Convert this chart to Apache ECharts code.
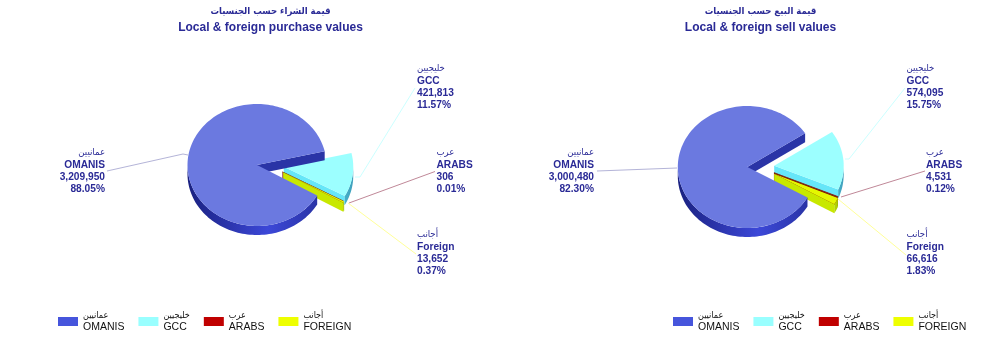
<!DOCTYPE html>
<html>
<head>
<meta charset="utf-8">
<title>Local & foreign values</title>
<style>
html, body { margin: 0; padding: 0; background: #fff; }
#main { width: 1000px; height: 355px; }
</style>
<script src="https://cdn.jsdelivr.net/npm/echarts@6/dist/echarts.min.js"></script>
</head>
<body>
<div id="main"></div>
<script>
// chart data
var legendEn = ['OMANIS', 'GCC', 'ARABS', 'FOREIGN'];
var legendAr = ['عمانيين', 'خليجيين', 'عرب', 'أجانب'];
var labelEn = ['OMANIS', 'GCC', 'ARABS', 'Foreign'];
var purchaseValues = [3209950, 421813, 306, 13652];
var sellValues = [3000480, 574095, 4531, 66616];
var purchaseTitleAr = 'قيمة الشراء حسب الجنسيات';
var purchaseTitleEn = 'Local & foreign purchase values';
var sellTitleAr = 'قيمة البيع حسب الجنسيات';
var sellTitleEn = 'Local & foreign sell values';

// look of the slices, same order as the categories
var legendColors = ['#4655DC', '#99FFFF', '#C00000', '#EEFF00'];
var topColors = ['#6B79E0', '#9CFFFF', '#C00000', '#E4F800'];
var sideColors = ['#2A34A6', '#66E6F8', '#7A0000', '#C8E800'];
var rimColors = [
	[{ offset: 0, color: '#1A2180' }, { offset: 0.62, color: '#3C48D8' }, { offset: 1, color: '#2A34A6' }],
	[{ offset: 0, color: '#45AFC8' }, { offset: 1, color: '#3FA0BC' }],
	[{ offset: 0, color: '#7A0000' }, { offset: 1, color: '#7A0000' }],
	[{ offset: 0, color: '#B8D800' }, { offset: 1, color: '#A8C800' }]
];
var leaderColors = ['#B4B4D8', '#CCFFFF', '#C08898', '#FFFF99'];
var textColor = '#2A2A96';
var fontFamily = '"Liberation Sans", Arial, sans-serif';
var arabicFamily = '"DejaVu Sans Condensed", "DejaVu Sans", sans-serif';

// pie geometry, in pixels
var radiusX = 69.5, radiusY = 61, depth = 9, explodeSquash = 0.5;
var explode = [0, 27, 29, 30];
var endAngle = -30;

var purchaseLayout = {
	cx: 257, cy: 165,
	labels: [
		{ x: 105, y: 152, align: 'right' },
		{ x: 417, y: 68, align: 'left' },
		{ x: 436.5, y: 152, align: 'left' },
		{ x: 417, y: 234, align: 'left' }
	],
	leaders: [
		[[107, 171], [183, 154], [188, 155]],
		[[355, 177], [360, 177], [415, 88]],
		[[349, 203], [435, 171.5]],
		[[348, 203], [416, 254]]
	]
};
var sellLayout = {
	cx: 747.3, cy: 167,
	labels: [
		{ x: 594, y: 152, align: 'right' },
		{ x: 906.5, y: 68, align: 'left' },
		{ x: 926, y: 152, align: 'left' },
		{ x: 906.5, y: 234, align: 'left' }
	],
	leaders: [
		[[597, 171], [677, 168]],
		[[845, 159], [849, 159], [905, 88]],
		[[841, 197], [925, 171]],
		[[838, 199], [906, 255]]
	]
};

function numberText(value) {
	return String(value).replace(/\B(?=(\d{3})+$)/g, ',');
}

function ellipsePoint(cx, cy, deg) {
	var a = deg * Math.PI / 180;
	return [cx + radiusX * Math.cos(a), cy - radiusY * Math.sin(a)];
}

function arcPoints(cx, cy, from, to) {
	var points = [];
	var steps = Math.max(1, Math.ceil((to - from) / 2));
	for (var i = 0; i <= steps; i++) {
		points.push(ellipsePoint(cx, cy, from + (to - from) * i / steps));
	}
	return points;
}

function down(points) {
	return points.map(function (p) { return [p[0], p[1] + depth]; });
}

// the walls facing the viewer, and the top face on them
function sliceShapes(index, cx, cy, from, to) {
	var shapes = [];
	var a = ellipsePoint(cx, cy, from);
	shapes.push({
		type: 'polygon',
		shape: { points: [[cx, cy], a, [a[0], a[1] + depth], [cx, cy + depth]] },
		style: { fill: sideColors[index] }
	});
	// rim, only the part in the lower half of the ellipse
	var rimFrom = index === 0 ? 180 : from;
	var rimTo = index === 0 ? to : Math.min(to, 0);
	if (rimTo > rimFrom) {
		var rim = arcPoints(cx, cy, rimFrom, rimTo);
		shapes.push({
			type: 'polygon',
			shape: { points: rim.concat(down(rim).reverse()) },
			style: { fill: new echarts.graphic.LinearGradient(0, 0, 1, 0, rimColors[index]) }
		});
	}
	var faceStyle = { fill: topColors[index] };
	if (index === 2) {
		faceStyle.stroke = '#7A2000';
		faceStyle.lineWidth = 0.6;
	}
	shapes.push({ type: 'polygon', shape: { points: [[cx, cy]].concat(arcPoints(cx, cy, from, to)) }, style: faceStyle });
	return shapes;
}

function labelShapes(index, value, total, layout) {
	var spot = layout.labels[index];
	var lines = [
		{ text: legendAr[index], dy: 0.5, font: '9.5px ' + arabicFamily },
		{ text: labelEn[index], dy: 12.7, font: 'bold 10.2px ' + fontFamily },
		{ text: numberText(value), dy: 25, font: 'bold 10.2px ' + fontFamily },
		{ text: (value / total * 100).toFixed(2) + '%', dy: 37.3, font: 'bold 10.2px ' + fontFamily }
	];
	return lines.map(function (line) {
		return {
			type: 'text',
			style: {
				x: spot.x, y: spot.y + line.dy, text: line.text, font: line.font,
				fill: textColor, align: spot.align, verticalAlign: 'middle'
			}
		};
	});
}

function pieSeries(values, layout) {
	var total = values.reduce(function (s, v) { return s + v; }, 0);
	var angles = [];
	var cursor = endAngle;
	// counter clockwise from the gap end: foreign, arabs, gcc, then the big slice
	for (var i = values.length - 1; i >= 0; i--) {
		var sweep = values[i] / total * 360;
		angles[i] = [cursor, cursor + sweep];
		cursor += sweep;
	}
	return [1, 2, 3, 0].map(function (index) {
		return {
			type: 'custom',
			name: legendEn[index],
			coordinateSystem: 'none',
			silent: true,
			animation: false,
			itemStyle: { color: legendColors[index] },
			data: [[values[index]]],
			renderItem: function (params, api) {
				var value = api.value(0);
				var from = angles[index][0], to = angles[index][1];
				var mid = (from + to) / 2 * Math.PI / 180;
				var cx = layout.cx + explode[index] * Math.cos(mid);
				var cy = layout.cy - explode[index] * Math.sin(mid) * explodeSquash;
				var leader = {
					type: 'polyline',
					shape: { points: layout.leaders[index] },
					style: { stroke: leaderColors[index], lineWidth: 1, fill: null }
				};
				return {
					type: 'group',
					children: [leader].concat(sliceShapes(index, cx, cy, from, to), labelShapes(index, value, total, layout))
				};
			}
		};
	});
}

function chartTitle(ar, en, center) {
	return {
		text: '{ar|' + ar + '}\n{en|' + en + '}',
		left: center,
		top: -1,
		textAlign: 'center',
		textStyle: {
			rich: {
				ar: { fontFamily: arabicFamily, fontSize: 9.5, fontWeight: 'bold', color: textColor, lineHeight: 16, align: 'center' },
				en: { fontFamily: fontFamily, fontSize: 12, fontWeight: 'bold', color: textColor, lineHeight: 16, align: 'center' }
			}
		}
	};
}

function chartLegend(left) {
	return {
		left: left,
		top: 306,
		icon: 'rect',
		itemWidth: 20,
		itemHeight: 9,
		itemGap: 14,
		selectedMode: false,
		data: legendEn.map(function (name, i) {
			return { name: name, itemStyle: { color: legendColors[i] } };
		}),
		formatter: function (name) {
			return '{ar|' + legendAr[legendEn.indexOf(name)] + '}\n{en|' + name + '}';
		},
		textStyle: {
			rich: {
				ar: { fontFamily: arabicFamily, fontSize: 9, color: '#111', lineHeight: 12 },
				en: { fontFamily: fontFamily, fontSize: 10.5, color: '#111', lineHeight: 12 }
			}
		}
	};
}

var chart = echarts.init(document.getElementById('main'), null, { renderer: 'canvas' });
chart.setOption({
	animation: false,
	backgroundColor: '#fff',
	title: [chartTitle(purchaseTitleAr, purchaseTitleEn, 265.5), chartTitle(sellTitleAr, sellTitleEn, 755.5)],
	legend: [chartLegend(53), chartLegend(668)],
	series: pieSeries(purchaseValues, purchaseLayout).concat(pieSeries(sellValues, sellLayout))
});
</script>
</body>
</html>
